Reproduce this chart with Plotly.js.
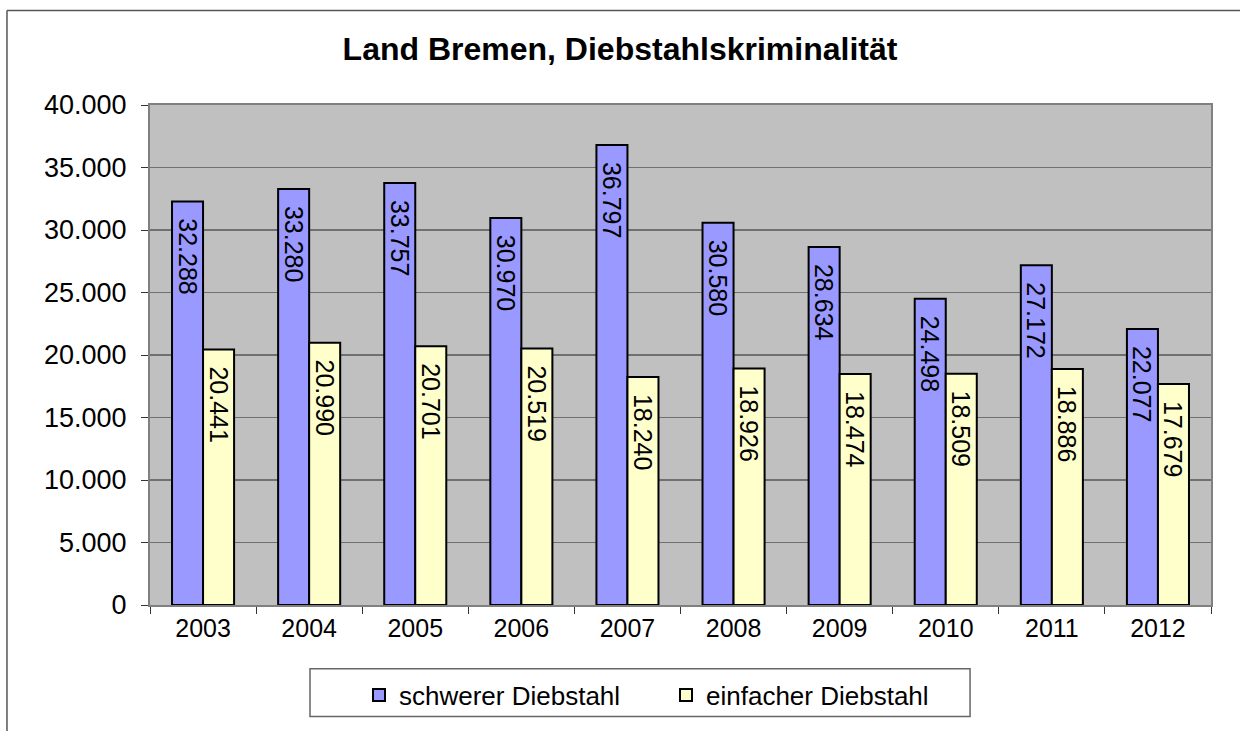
<!DOCTYPE html>
<html>
<head>
<meta charset="utf-8">
<script src="https://cdn.plot.ly/plotly-3.0.1.min.js"></script>
<style>
html,body{margin:0;padding:0;background:#fff;overflow:hidden;}
#chart{width:1240px;height:731px;}
</style>
</head>
<body>
<div id="chart"></div>
<script>
var years = ["2003","2004","2005","2006","2007","2008","2009","2010","2011","2012"];
var schwerer = [32288, 33280, 33757, 30970, 36797, 30580, 28634, 24498, 27172, 22077];
var einfacher = [20441, 20990, 20701, 20519, 18240, 18926, 18474, 18509, 18886, 17679];
var seriesNames = ["schwerer Diebstahl", "einfacher Diebstahl"];
var chartTitle = "Land Bremen, Diebstahlskriminalität";

var FONT = "Arial, 'Liberation Sans', sans-serif";

function barTrace(name, values, color) {
  return {
    type: "bar",
    name: name,
    x: years,
    y: values,
    marker: {color: color, line: {color: "#000000", width: 2}},
    texttemplate: "\u00a0\u00a0%{y:,}",
    textposition: "inside",
    insidetextanchor: "end",
    textangle: 90,
    constraintext: "none",
    textfont: {family: FONT, size: 25, color: "#000000"},
    hoverinfo: "skip"
  };
}

var data = [
  barTrace(seriesNames[0], schwerer, "#9999FF"),
  barTrace(seriesNames[1], einfacher, "#FFFFCC")
];

var layout = {
  width: 1240,
  height: 731,
  margin: {l: 150, r: 29, t: 105, b: 124},
  paper_bgcolor: "#FFFFFF",
  plot_bgcolor: "#C0C0C0",
  separators: ",.",
  font: {family: FONT, size: 25, color: "#000000"},
  title: {
    text: "<b>" + chartTitle + "</b>",
    font: {family: FONT, size: 32, color: "#000000"},
    x: 0.5, xanchor: "center",
    y: 0.933, yanchor: "middle"
  },
  barmode: "group",
  bargap: 0.415,
  bargroupgap: 0,
  showlegend: true,
  legend: {
    orientation: "h",
    x: 0.197, xanchor: "left",
    y: -0.133, yanchor: "top",
    bgcolor: "rgba(0,0,0,0)",
    borderwidth: 0,
    entrywidth: 262,
    font: {family: FONT, size: 26, color: "#000000"},
    traceorder: "normal"
  },
  xaxis: {
    type: "category",
    tickson: "boundaries",
    ticks: "outside",
    ticklen: 7,
    tickcolor: "#333333",
    tickwidth: 1,
    showline: true,
    linecolor: "#808080",
    linewidth: 2,
    mirror: true,
    showgrid: false,
    tickfont: {family: FONT, size: 25, color: "#000000"},
    fixedrange: true
  },
  yaxis: {
    range: [0, 40000],
    dtick: 5000,
    tick0: 0,
    tickformat: ",d",
    ticks: "outside",
    ticklen: 7,
    tickcolor: "#333333",
    tickwidth: 1,
    showline: true,
    linecolor: "#808080",
    linewidth: 2,
    mirror: true,
    showgrid: true,
    gridcolor: "#707070",
    gridwidth: 1.5,
    zeroline: false,
    ticklabelstandoff: 9,
    tickfont: {family: FONT, size: 27, color: "#000000"},
    fixedrange: true
  },
  shapes: [
    {type: "line", xref: "paper", yref: "paper", x0: -0.1348, x1: 1.3, y0: 1.189, y1: 1.189,
     line: {color: "#555555", width: 1.5}, layer: "below"},
    {type: "line", xref: "paper", yref: "paper", x0: -0.1348, x1: -0.1348, y0: -0.3, y1: 1.189,
     line: {color: "#555555", width: 1.5}, layer: "below"},
    {type: "rect", xref: "paper", yref: "paper", x0: 0.1508, x1: 0.7729, y0: -0.2231, y1: -0.1275,
     line: {color: "#666666", width: 1.5}, fillcolor: "rgba(0,0,0,0)", layer: "below"}
  ],
  hovermode: false
};

Plotly.newPlot("chart", data, layout, {displayModeBar: false, staticPlot: true});
</script>
</body>
</html>
